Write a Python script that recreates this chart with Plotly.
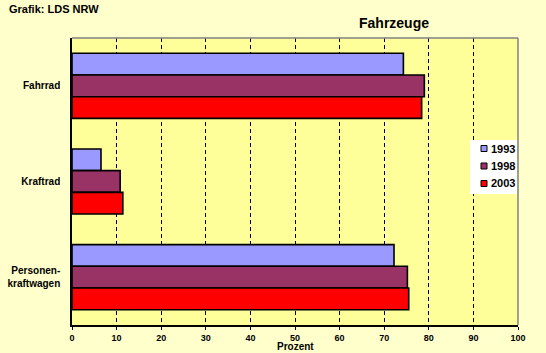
import plotly.graph_objects as go

categories = ["Fahrrad", "Kraftrad", "Personen-<br>kraftwagen"]
years = ["1993", "1998", "2003"]
values_1993 = [74.3, 6.5, 72.2]
values_1998 = [79.0, 10.8, 75.2]
values_2003 = [78.4, 11.4, 75.5]
colors = ["#9999FF", "#993366", "#FF0000"]
x_ticks = list(range(0, 101, 10))

series = [values_1993, values_1998, values_2003]
FONT = "Liberation Sans, Arial, sans-serif"

W, H = 546, 353
L, R, T, B = 72, 28, 38, 28
PW, PH = W - L - R, H - T - B


def px(x):
    return (x - L) / PW


def py(y):
    return (H - B - y) / PH


fig = go.Figure()
for yr, vals, col in zip(years, series, colors):
    fig.add_trace(go.Bar(
        y=categories, x=vals, name=yr, orientation="h", showlegend=False,
        marker=dict(color=col, line=dict(color="black", width=1.6)),
    ))

shapes = [
    dict(type="line", xref="paper", yref="paper", x0=0, x1=1, y0=1, y1=1,
         line=dict(color="#808080", width=1.5)),
    dict(type="line", xref="paper", yref="paper", x0=1, x1=1, y0=0, y1=1,
         line=dict(color="#808080", width=1.5)),
    # legend box
    dict(type="rect", xref="paper", yref="paper", x0=px(470), x1=px(517),
         y0=py(194), y1=py(140), fillcolor="white", line=dict(width=0), layer="above"),
]
annotations = [
    dict(text="Grafik: LDS NRW", xref="paper", yref="paper",
         x=px(7), y=py(9), xanchor="left", yanchor="middle",
         showarrow=False, font=dict(size=11, weight="bold")),
    dict(text="Fahrzeuge", xref="paper", yref="paper", x=px(394),
         y=1, yanchor="bottom", xanchor="center", yshift=5, showarrow=False,
         font=dict(size=14, weight="bold")),
    dict(text="Prozent", xref="paper", yref="paper", x=0.5, y=py(353),
         yanchor="bottom", xanchor="center", yshift=-1, showarrow=False,
         font=dict(size=10, weight="bold")),
]
for i, (yr, col) in enumerate(zip(years, colors)):
    yc = 148.5 + i * 17.5
    shapes.append(dict(type="rect", xref="paper", yref="paper",
                       x0=px(481), x1=px(487), y0=py(yc + 3), y1=py(yc - 3),
                       fillcolor=col, line=dict(color="black", width=1), layer="above"))
    annotations.append(dict(text=yr, xref="paper", yref="paper", x=px(489), y=py(yc),
                            xanchor="left", yanchor="middle", showarrow=False,
                            font=dict(size=11, weight="bold")))

fig.update_layout(
    width=W, height=H,
    margin=dict(l=L, r=R, t=T, b=B, autoexpand=False),
    paper_bgcolor="#FFFFCC", plot_bgcolor="#FFFF99",
    barmode="group", bargap=0.32, bargroupgap=0,
    font=dict(family=FONT, size=10, color="black", weight="bold"),
    showlegend=False,
    xaxis=dict(range=[0, 100], tickvals=x_ticks, ticks="outside", ticklen=3,
               tickcolor="black", showline=True, linecolor="black", linewidth=1.5,
               showgrid=True, gridcolor="black", griddash="4px,3px", gridwidth=1,
               zeroline=False, tickfont=dict(size=9, weight="bold"),
               automargin=False),
    yaxis=dict(autorange="reversed", showline=True, linecolor="black", linewidth=1.5,
               showgrid=False, ticks="", ticklabelstandoff=8,
               tickfont=dict(size=10, weight="bold"), automargin=False),
    shapes=shapes,
    annotations=annotations,
)

fig.write_html("out.html")
